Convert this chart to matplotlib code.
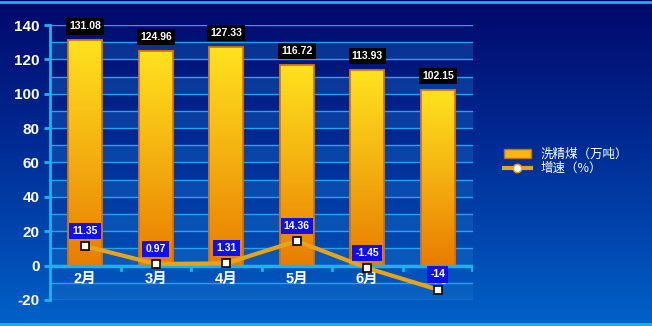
import matplotlib.pyplot as plt
import numpy as np
from matplotlib.colors import LinearSegmentedColormap
from matplotlib.lines import Line2D
from matplotlib.patches import Rectangle

plt.rcParams['font.family'] = ['Liberation Sans', 'Noto Sans CJK SC']
plt.rcParams['axes.unicode_minus'] = False

# 数据
months = ['2月', '3月', '4月', '5月', '6月', '7月']
output = [131.08, 124.96, 127.33, 116.72, 113.93, 102.15]   # 洗精煤（万吨）
growth = [11.35, 0.97, 1.31, 14.36, -1.45, -14]              # 增速（%）
growth_labels = ['11.35', '0.97', '1.31', '14.36', '-1.45', '-14']

fig = plt.figure(figsize=(6.52, 3.26), dpi=100)

# 背景渐变
bg = fig.add_axes([0, 0, 1, 1], zorder=-10)
bg_cmap = LinearSegmentedColormap.from_list('bg', ['#00086a', '#00309a', '#0062c8'])
bg.imshow(np.linspace(0, 1, 256).reshape(-1, 1), aspect='auto', cmap=bg_cmap,
          extent=[0, 1, 0, 1], origin='upper')
bg.set_xlim(0, 1)
bg.set_ylim(0, 1)
bg.axis('off')
# 外框
bg.plot([0, 1], [0.994, 0.994], color='#18b4f0', lw=2)
bg.plot([0, 1], [0.006, 0.006], color='#18b4f0', lw=2)

ax = fig.add_axes([0.0767, 0.0798, 0.649, 0.8435])
ax.set_facecolor('none')
x = np.arange(len(months))
ax.set_xlim(-0.5, len(months) - 0.5)
ax.set_ylim(-20, 140)

# 条纹背景和网格
for y0 in range(-20, 140, 20):
    ax.axhspan(y0, y0 + 10, color='#1a70c8', alpha=0.35, lw=0, zorder=0)
for y0 in range(-20, 141, 10):
    ax.axhline(y0, color='#2aa0f0', lw=1, zorder=1)

# 柱子（渐变填充）
bar_cmap = LinearSegmentedColormap.from_list('bar', ['#e87c00', '#f4b010', '#ffe21e'])
bars = ax.bar(x, output, width=0.48, color='#f0a000', edgecolor='#d07010', lw=1.2, zorder=2)
for b in bars:
    bx, by = b.get_x(), b.get_y()
    w, h = b.get_width(), b.get_height()
    im = ax.imshow(np.linspace(0, 1, 128).reshape(-1, 1), aspect='auto', cmap=bar_cmap,
                   extent=[bx, bx + w, by, by + h], origin='lower', zorder=2.5)
    im.set_clip_path(b)
    ax.add_patch(Rectangle((bx, by), w, h, fill=False, edgecolor='#d07010', lw=1.2, zorder=2.6))
ax.set_aspect('auto')
ax.set_xlim(-0.5, len(months) - 0.5)
ax.set_ylim(-20, 140)

# 柱顶数值
for xi, v in zip(x, output):
    ax.annotate(f'{v:.2f}', (xi, v), xytext=(0, 10), textcoords='offset points',
                ha='center', va='center', color='white', fontsize=7.5, fontweight='bold',
                bbox=dict(boxstyle='square,pad=0.3', fc='black', ec='none'), zorder=5)

# 增速折线
ax.plot(x, growth, color='#e8a418', lw=3, zorder=4)
ax.plot(x, growth, ls='none', marker='s', ms=6, mfc='white', mec='black', mew=1.2, zorder=4.5)
for xi, v, t in zip(x, growth, growth_labels):
    ax.annotate(t, (xi, v), xytext=(0, 11), textcoords='offset points',
                ha='center', va='center', color='white', fontsize=7.5, fontweight='bold',
                bbox=dict(boxstyle='square,pad=0.3', fc='#1010e8', ec='none'), zorder=6)

# 坐标轴
for s in ['top', 'right', 'bottom']:
    ax.spines[s].set_visible(False)
ax.spines['left'].set_color('#18b4f0')
ax.spines['left'].set_linewidth(2)
ax.axhline(0, color='#18b4f0', lw=2.5, zorder=3)
ax.set_yticks(range(-20, 141, 20))
ax.tick_params(axis='y', colors='#18b4f0', length=4, width=2, labelcolor='white', labelsize=11)
for lbl in ax.get_yticklabels():
    lbl.set_fontweight('bold')
ax.set_xticks([])
for xb in np.arange(0.5, len(months) - 0.5, 1.0):
    ax.plot([xb, xb], [0, -2.5], color='#18b4f0', lw=2, zorder=3)
ax.plot([5.48, 5.48], [0, -2.5], color='#18b4f0', lw=2, zorder=3)
for xi, m in zip(x, months):
    ax.text(xi, -8, m, ha='center', va='center', color='white', fontsize=10.5,
            fontweight='bold', zorder=3)

# 图例
handles = [
    Rectangle((0, 0), 1, 1, fc='#f6b814', ec='#c07010', lw=1),
    Line2D([0], [0], color='#e8a418', lw=3, marker='o', ms=6, mfc='white', mec='#e8a418'),
]
fig.legend(handles, ['洗精煤（万吨）', '增速（%）'], loc='center left',
           bbox_to_anchor=(0.755, 0.505), frameon=False, labelcolor='white',
           prop={'family': ['Noto Sans CJK SC'], 'size': 9}, handlelength=2.2,
           handletextpad=0.8, labelspacing=0.1)

fig.savefig('out.png', dpi=100)
